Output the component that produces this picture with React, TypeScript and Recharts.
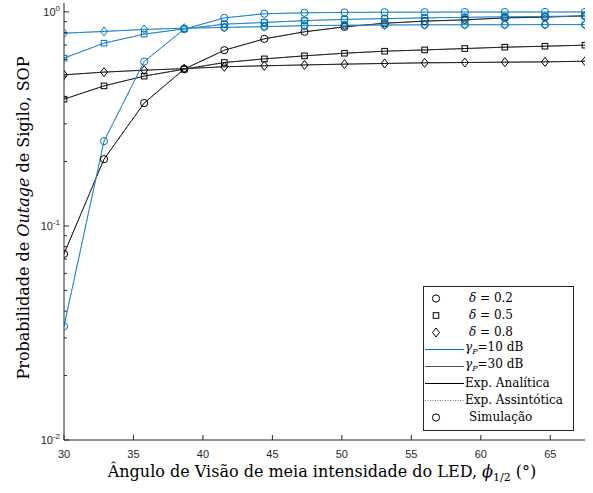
import { LineChart, Line, XAxis, YAxis } from "recharts";

// half-power angle of the LED (degrees)
const angles = [30, 32.88, 35.77, 38.65, 41.54, 44.42, 47.31, 50.19, 53.08, 55.96, 58.85, 61.73, 64.62, 67.5];

// gamma_P = 10 dB
const sop10d02 = [0.034, 0.249, 0.586, 0.83, 0.937, 0.98, 0.99, 0.994, 0.996, 0.997, 0.998, 0.998, 0.999, 0.999];
const sop10d05 = [0.608, 0.714, 0.787, 0.833, 0.876, 0.892, 0.91, 0.922, 0.93, 0.937, 0.943, 0.948, 0.952, 0.956];
const sop10d08 = [0.795, 0.81, 0.828, 0.839, 0.846, 0.853, 0.862, 0.866, 0.868, 0.87, 0.871, 0.871, 0.872, 0.872];

// gamma_P = 30 dB
const sop30d02 = [0.074, 0.205, 0.375, 0.54, 0.662, 0.748, 0.807, 0.851, 0.885, 0.905, 0.918, 0.937, 0.945, 0.958];
const sop30d05 = [0.391, 0.451, 0.501, 0.54, 0.58, 0.603, 0.623, 0.641, 0.655, 0.664, 0.674, 0.684, 0.691, 0.699];
const sop30d08 = [0.508, 0.523, 0.534, 0.543, 0.554, 0.56, 0.565, 0.57, 0.574, 0.578, 0.58, 0.582, 0.584, 0.588];

// simulation points shown on the blue square / diamond curves
const sim10d05 = [null, null, null, null, 0.876, 0.892, 0.91, 0.922, 0.93, 0.937, 0.943, 0.948, 0.952, 0.956];
const sim10d08 = [null, null, null, null, 0.846, 0.853, 0.862, 0.866, 0.868, 0.87, 0.871, 0.871, 0.872, 0.872];

const xTicks = [30, 35, 40, 45, 50, 55, 60, 65];
const yTicks = [
  0.01, 0.02, 0.03, 0.04, 0.05, 0.06, 0.07, 0.08, 0.09,
  0.1, 0.2, 0.3, 0.4, 0.5, 0.6, 0.7, 0.8, 0.9, 1,
];

const BLUE = "#0072BD";
const LIGHT_BLUE = "#5AA6DC";
const AX = "#262626";
const W = 593;
const H = 493;
const PL = 64;
const PR = 585;
const PT = 3;
const PB = 440;

const rows = angles.map((x, i) => ({
  x,
  b02: sop10d02[i],
  b05: sop10d05[i],
  b08: sop10d08[i],
  k02: sop30d02[i],
  k05: sop30d05[i],
  k08: sop30d08[i],
  sb05: sim10d05[i],
  sb08: sim10d08[i],
}));

const series = [
  { key: "k02", color: "#000", light: "#555", shape: "circle" },
  { key: "k05", color: "#000", light: "#555", shape: "square" },
  { key: "k08", color: "#000", light: "#555", shape: "diamond" },
  { key: "b02", color: BLUE, light: LIGHT_BLUE, shape: "circle" },
  { key: "b05", color: BLUE, light: LIGHT_BLUE, shape: "square" },
  { key: "b08", color: BLUE, light: LIGHT_BLUE, shape: "diamond" },
];

function Marker({ shape, cx, cy, color }: any) {
  if (shape === "circle") return <circle cx={cx} cy={cy} r={3.6} fill="none" stroke={color} strokeWidth={1} />;
  if (shape === "square") return <rect x={cx - 2.8} y={cy - 2.8} width={5.6} height={5.6} fill="none" stroke={color} strokeWidth={1} />;
  return <path d={`M${cx},${cy - 4.5}L${cx + 3.5},${cy}L${cx},${cy + 4.5}L${cx - 3.5},${cy}Z`} fill="none" stroke={color} strokeWidth={1} />;
}

const dotFor = (shape: string, color: string) => (p: any) => {
  if (p.cx == null || p.cy == null || p.value == null) return <g key={`d${p.index}`} />;
  return <Marker key={`d${p.index}`} shape={shape} cx={p.cx} cy={p.cy} color={color} />;
};

function XTick({ x, payload }: any) {
  return (
    <g>
      <line x1={x} x2={x} y1={PB} y2={PB - 5} stroke={AX} />
      <text x={x} y={PB + 18} textAnchor="middle" fontSize={11} fill={AX} fontFamily="Liberation Sans, Arial">
        {payload.value}
      </text>
    </g>
  );
}

function TopTick({ x }: any) {
  return <line x1={x} x2={x} y1={PT} y2={PT + 5} stroke={AX} />;
}

const isDecade = (v: number) => Math.abs(Math.log10(v) - Math.round(Math.log10(v))) < 1e-6;

function YTick({ y, payload }: any) {
  const v = payload.value;
  const major = isDecade(v);
  return (
    <g>
      <line x1={PL} x2={PL + (major ? 5 : 3)} y1={y} y2={y} stroke={AX} />
      {major && (
        <text x={PL - 4} y={y + 4} textAnchor="end" fontSize={11} fill={AX} fontFamily="Liberation Sans, Arial">
          10<tspan dy={-5} fontSize={8}>{Math.round(Math.log10(v))}</tspan>
        </text>
      )}
    </g>
  );
}

function RightTick({ y, payload }: any) {
  const major = isDecade(payload.value);
  return <line x1={PR} x2={PR - (major ? 5 : 3)} y1={y} y2={y} stroke={AX} />;
}

const SERIF = "DejaVu Serif, serif";

function LegendBox() {
  const rowsL: { kind: string; label: any }[] = [
    { kind: "circle", label: <><i>δ</i> = 0.2</> },
    { kind: "square", label: <><i>δ</i> = 0.5</> },
    { kind: "diamond", label: <><i>δ</i> = 0.8</> },
    { kind: "blue", label: <><i>γ</i><sub style={{ fontSize: 8 }}><i>P</i></sub>=10 dB</> },
    { kind: "gray", label: <><i>γ</i><sub style={{ fontSize: 8 }}><i>P</i></sub>=30 dB</> },
    { kind: "black", label: <>Exp. Analítica</> },
    { kind: "dotted", label: <>Exp. Assintótica</> },
    { kind: "circle", label: <>Simulação</> },
  ];
  return (
    <div
      style={{
        position: "absolute",
        left: 423,
        top: 286,
        width: 151,
        height: 145,
        border: `1px solid ${AX}`,
        background: "#fff",
        boxSizing: "border-box",
        paddingTop: 3,
        fontFamily: SERIF,
        fontSize: 12,
        color: "#000",
      }}
    >
      {rowsL.map((r, i) => {
        const isLine = ["blue", "gray", "black", "dotted"].includes(r.kind);
        const stroke = r.kind === "blue" ? BLUE : r.kind === "gray" ? "#555" : r.kind === "black" ? "#000" : "#777";
        return (
          <div key={i} style={{ display: "flex", alignItems: "center", height: 17, lineHeight: "17px", whiteSpace: "nowrap" }}>
            <svg width={isLine ? 41 : 45} height={17} style={{ flex: "none" }}>
              {isLine ? (
                <line x1={1} x2={40} y1={8.5} y2={8.5} stroke={stroke} strokeWidth={1.2} strokeDasharray={r.kind === "dotted" ? "1 1.5" : undefined} />
              ) : (
                <Marker shape={r.kind} cx={12} cy={8.5} color="#000" />
              )}
            </svg>
            <span>{r.label}</span>
          </div>
        );
      })}
    </div>
  );
}

export default function App() {
  return (
    <div style={{ position: "absolute", left: 0, top: 0, width: W, height: H, background: "#fff" }}>
      <LineChart width={W} height={H} data={rows} margin={{ top: PT, right: W - PR, bottom: 0, left: 0 }}>
        <XAxis
          dataKey="x"
          type="number"
          domain={[30, 67.5]}
          ticks={xTicks}
          tick={XTick}
          tickLine={false}
          tickSize={0}
          tickMargin={0}
          height={H - PB}
          axisLine={{ stroke: AX }}
          allowDataOverflow
        />
        <XAxis
          xAxisId="top"
          orientation="top"
          dataKey="x"
          type="number"
          domain={[30, 67.5]}
          ticks={xTicks}
          tick={TopTick}
          tickLine={false}
          height={0}
          axisLine={{ stroke: AX }}
          allowDataOverflow
        />
        <YAxis
          type="number"
          scale="log"
          domain={[0.01, 1.1]}
          ticks={yTicks}
          tick={YTick}
          tickLine={false}
          tickSize={0}
          tickMargin={0}
          width={PL}
          interval={0}
          axisLine={{ stroke: AX }}
          allowDataOverflow
        />
        <YAxis
          yAxisId="right"
          orientation="right"
          type="number"
          scale="log"
          domain={[0.01, 1.1]}
          ticks={yTicks}
          tick={RightTick}
          tickLine={false}
          width={0}
          interval={0}
          axisLine={{ stroke: AX }}
          allowDataOverflow
        />
        {series.map((s) => (
          <Line
            key={s.key}
            dataKey={s.key}
            stroke={s.color}
            strokeWidth={1}
            dot={dotFor(s.shape, s.color)}
            activeDot={false}
            isAnimationActive={false}
          />
        ))}
        {series.map((s) => (
          <Line
            key={`a${s.key}`}
            dataKey={s.key}
            stroke={s.light}
            strokeWidth={1}
            strokeDasharray="1 1.5"
            dot={false}
            activeDot={false}
            isAnimationActive={false}
          />
        ))}
        {["sb05", "sb08"].map((k) => (
          <Line
            key={k}
            dataKey={k}
            stroke="none"
            dot={dotFor("circle", BLUE)}
            activeDot={false}
            isAnimationActive={false}
          />
        ))}
        <text
          transform="translate(29 218) rotate(-90)"
          textAnchor="middle"
          fontFamily={SERIF}
          fontSize={16}
          fill="#000"
        >
          Probabilidade de <tspan fontStyle="italic">Outage</tspan> de Sigilo, SOP
        </text>
        <text x={322} y={477} textAnchor="middle" fontFamily={SERIF} fontSize={16} fill="#000">
          Ângulo de Visão de meia intensidade do LED, <tspan fontStyle="italic">ϕ</tspan>
          <tspan fontSize={11} dy={4}>1/2</tspan>
          <tspan dy={-4}> (°)</tspan>
        </text>
      </LineChart>
      <LegendBox />
    </div>
  );
}
